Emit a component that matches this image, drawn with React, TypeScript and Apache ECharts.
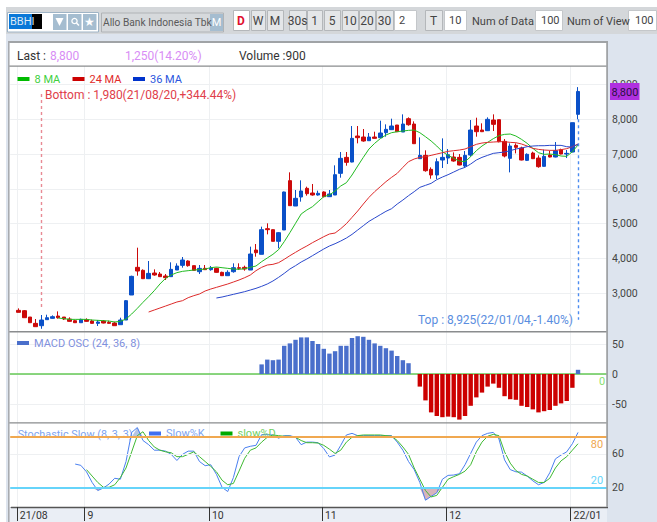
import React, { useEffect, useRef } from "react";
import * as echarts from "echarts";

const FONT = "Roboto, sans-serif";
const BANDS = 106;

// index of the first session of each month -> tick label
const monthTicks: Record<number, string> = { 1: "21/08", 13: "9", 35: "10", 55: "11", 77: "12", 99: "22/01" };
const categories = Array.from({ length: BANDS }, (_, i) => String(i));

// [open, close, low, high]
const candles = [
  [2510,2453,2453,2567],[2500,2299,2299,2520],[2318,2155,2155,2318],[2136,2041,2041,2261],[2069,2232,1980,2376],
  [2242,2299,2242,2385],[2280,2328,2271,2366],[2347,2299,2271,2481],[2318,2261,2232,2318],[2261,2194,2184,2309],
  [2213,2155,2155,2232],[2155,2251,2155,2271],[2242,2194,2184,2280],[2203,2136,2127,2242],[2136,2175,2060,2232],
  [2203,2146,2136,2232],[2165,2136,2127,2213],[2146,2069,2069,2184],[2098,2232,2098,2299],[2232,2788,2232,2807],
  [2951,3487,2951,3506],[3746,3640,3506,4311],[3660,3420,3410,3688],[3420,3573,3410,3928],[3583,3526,3506,3688],
  [3554,3478,3468,3612],[3497,3449,3382,3554],[3478,3688,3478,3890],[3669,3784,3669,3861],[3803,3957,3736,4043],
  [3928,3794,3765,3947],[3794,3660,3660,3794],[3621,3717,3554,3813],[3717,3679,3669,3813],[3679,3727,3650,3784],
  [3717,3602,3592,3736],[3602,3506,3497,3621],[3506,3602,3506,3660],[3621,3736,3592,3861],[3736,3717,3669,3861],
  [3746,3698,3650,3794],[3669,4129,3669,4340],[4244,4167,4052,4416],[4120,4828,4120,4915],[4857,4828,4694,5010],
  [4828,4493,4493,4838],[4493,4742,4292,4761],[4819,5911,4819,5921],[6237,5518,5518,6476],[5508,5729,5508,5968],
  [5767,5940,5633,6246],[6016,5863,5806,6064],[5882,5825,5806,6141],[5825,5873,5806,5949],[5911,5777,5758,5930],
  [5776,5853,5776,5968],[5824,6408,5824,6677],[6447,6878,6322,7060],[6906,6763,6667,7060],[6772,7452,6763,7807],
  [7520,7472,7309,7807],[7491,7376,7357,7721],[7385,7491,7385,7606],[7491,7452,7443,7644],[7472,7606,7462,7960],
  [7615,7711,7500,7855],[7702,7807,7692,8018],[7836,7644,7634,7836],[7634,7864,7634,8142],[8018,7845,7816,8056],
  [7864,7299,7290,7941],[6868,6964,6868,7481],[6964,6523,6494,7108],[6562,6399,6293,6619],[6399,6782,6284,6878],
  [6830,6906,6600,7452],[6887,6983,6715,7146],[6916,6801,6782,7050],[6906,6686,6677,7002],[6657,6964,6600,7088],
  [6973,7692,6926,7979],[7807,7644,7500,8046],[7692,7644,7634,7884],[7673,7999,7663,8056],[7979,7855,7663,8142],
  [7989,7357,7338,7989],[7366,6945,6906,7433],[6878,7232,6475,7309],[7251,7194,7021,7309],[7175,6830,6820,7213],
  [6820,6993,6801,7021],[7031,6868,6858,7069],[6887,6638,6609,6964],[6648,6935,6638,7127],[6973,6916,6906,7098],
  [6916,7098,6906,7347],[7127,7002,6993,7156],[7002,7021,6887,7117],[7060,7903,7050,7903],[8142,8800,8000,8925],
];

const ma8 = [2290,2271,2251,2251,2251,2251,2232,2223,2213,2203,2175,2194,2261,2405,2568,2740,2903,3075,3267,3430,3526,3593,3631,3650,3669,3679,3698,3736,3755,3736,3717,3698,3688,3707,3746,3784,3909,4014,4120,4254,4484,4742,5010,5279,5394,5489,5633,5777,5825,5939,6083,6178,6399,6657,6906,7146,7309,7443,7548,7615,7644,7663,7682,7692,7615,7500,7376,7232,7069,6964,6878,6801,6782,6926,7098,7232,7337,7443,7529,7567,7577,7520,7424,7309,7165,7041,6993,7002,6983,6945,6935,7069,7261];
const ma24 = [2462,2520,2577,2634,2692,2750,2788,2874,2932,2980,3066,3123,3171,3219,3267,3324,3382,3449,3526,3650,3746,3813,3832,3880,3976,4081,4177,4273,4359,4455,4541,4627,4704,4732,4856,5000,5182,5364,5565,5757,5920,6063,6207,6332,6447,6619,6782,6859,6906,6926,6964,7002,7041,7079,7098,7117,7146,7213,7280,7318,7337,7347,7357,7357,7337,7328,7290,7232,7165,7136,7117,7108,7108,7127,7156,7213,7290];
const ma36 = [2865,2893,2932,2970,3008,3047,3094,3142,3200,3267,3353,3458,3573,3698,3794,3899,3985,4081,4177,4273,4359,4425,4502,4588,4693,4818,4942,5067,5163,5259,5355,5431,5565,5680,5805,5920,6044,6102,6159,6265,6341,6408,6485,6562,6619,6715,6830,6906,6964,7021,7041,7060,7098,7146,7175,7213,7232,7241,7241,7251,7251,7251,7213,7203,7280];
const macdOsc = [16,24,23,24,47,51,57,61,61,55,50,42,34,38,47,47,60,63,62,57,51,47,43,39,30,23,18,null,-21,-44,-64,-70,-72,-71,-72,-76,-70,-53,-39,-31,-21,-16,-23,-37,-42,-43,-53,-55,-59,-64,-62,-60,-53,-49,-45,-23,7];
const slowK = [48.1,46.6,39,26.5,17,20,24.6,31.4,30.3,51.1,85.3,91,75.8,70.9,64.4,64.4,63.3,59.5,52.3,59.5,63.3,63.3,51.1,46.2,47.3,36,20.8,15.8,32.2,56.8,67.1,69,70.1,82.7,82.7,82.3,78.5,81.5,81.5,79.6,70.9,73.9,73.9,73.2,66.3,56.5,58.7,70.1,82.3,84.2,81.5,81.5,81.5,81.5,81.5,81.5,81.5,73.9,64.4,51.1,41.6,26.5,5.6,10.1,14.3,30.3,34.8,35.2,36.7,47.3,60.6,73.9,81.5,84.2,85.3,77.7,53,41.6,39,38.6,34,28.4,23.8,26.5,37.9,54.2,58.7,62.5,72,85.3];
const slowD = [41.6,34,26.5,20.8,20.8,23.8,32.2,43.5,62.5,81.5,86.1,75.8,68.2,64.4,62.5,61.4,56.8,56.8,59.5,62.5,56.8,51.1,45.4,39,29.1,23.8,25.3,39.8,54.9,64.4,67.1,73.9,79.6,82.3,81.5,80.8,80.8,79.6,75.8,73.2,73.2,72.8,70.1,65.6,60.6,64.4,73.9,79.6,81.5,82.3,82.3,82.3,82.3,81.5,80.8,75.8,68.2,59.5,43.5,30.3,17,9.4,11.3,20.8,30.3,33.3,36,39.8,47.3,62.5,73.9,80.8,83,81.5,62.5,49.2,40.5,36,34,30.3,26.5,26.5,31.4,43.5,51.9,56.8,64.4,72];
const fillOver1 = [80, 91, 80];
const fillUnder1 = [20, 17, 20];
const fillUnder2 = [20, 5.6, 10.1, 14.3, 20];

const pad = (start: number, values: (number | null)[]) => [...Array(start).fill(null), ...values];

type TxtOpt = { align?: string; size?: number; weight?: string; z?: number };
const txt = (x: number, y: number, text: string, fill: string, o: TxtOpt = {}) => ({
  type: "text", x, y, z: o.z ?? 60, silent: true,
  style: { text, fill, fontSize: o.size ?? 11, fontFamily: FONT, fontWeight: o.weight ?? "normal", align: o.align ?? "left", verticalAlign: "middle" },
});
const box = (x: number, y: number, w: number, h: number, fill: string, z = 55, stroke?: string) => ({
  type: "rect", z, silent: true, shape: { x, y, width: w, height: h },
  style: { fill, stroke: stroke ?? "none", lineWidth: stroke ? 1 : 0 },
});
const button = (x: number, x2: number, label: string, color = "#444", bg = "#e4e6e8", weight = "normal") => [
  box(x + 0.5, 10.5, x2 - x, 20, bg, 55, "#b4b7ba"),
  txt((x + x2) / 2, 21, label, color, { align: "center", weight, size: 12 }),
];
const field = (x: number, x2: number, label: string, textX: number) => [
  box(x + 0.5, 10.5, x2 - x, 20, "#ffffff", 55, "#c4c7ca"),
  txt(textX, 20.5, label, "#444", { size: 11 }),
];

const graphics = [
  box(6, 7, 651, 515, "#dde4ee", -10),
  box(6, 7, 651, 27, "#d4d7da", -9),
  box(9, 42, 598, 465, "#ffffff", -8),
  box(9, 507, 598, 15, "#eaeef5", -8),
  // frame
  box(8, 41, 600, 2, "#a0a3a6"),
  box(8, 65.5, 600, 1.2, "#8a8c8e"),
  box(8, 331, 600, 1.4, "#8a8c8e"),
  box(8, 422.2, 600, 1.4, "#8a8c8e"),
  box(8, 41, 1.6, 481, "#a8abb0"),
  box(606.2, 41, 1.8, 466, "#a0a3a6"),
  box(608, 43, 3.5, 479, "#dde4ee", 54),
  // symbol box
  box(7.5, 12.5, 91, 19.5, "#ffffff", 55, "#9fb4c6"),
  box(9, 14, 23, 15, "#0a78d8"),
  box(32, 14, 10, 15, "#000000"),
  txt(10, 21.5, "BBHI", "#dce9f5", { z: 61, size: 11 }),
  box(53, 14, 13.5, 16, "#a5bdd0"),
  box(68, 14, 13.5, 16, "#a5bdd0"),
  box(83, 14, 13.5, 16, "#a5bdd0"),
  { type: "polygon", z: 60, silent: true, shape: { points: [[55.5, 18], [63.5, 18], [59.5, 26]] }, style: { fill: "#ffffff" } },
  { type: "circle", z: 60, silent: true, shape: { cx: 74.5, cy: 21, r: 2.6 }, style: { fill: "none", stroke: "#ffffff", lineWidth: 1.3 } },
  { type: "line", z: 60, silent: true, shape: { x1: 76.5, y1: 23, x2: 79, y2: 25.5 }, style: { stroke: "#ffffff", lineWidth: 1.5 } },
  txt(89.5, 22, "★", "#ffffff", { align: "center", size: 12 }),
  box(101.5, 13, 122, 19, "#d6d9dc", 55, "#b0b3b6"),
  txt(103, 22.5, "Allo Bank Indonesia Tbk", "#5a5a5a", { size: 10.2 }),
  box(210, 14, 13, 17, "#a5bdd0"),
  txt(216.5, 22.5, "M", "#ffffff", { align: "center", size: 11 }),
  ...button(233, 249, "D", "#e01030", "#ffffff", "bold"),
  ...button(251, 265, "W"),
  ...button(267, 283, "M"),
  ...button(289, 306, "30s"),
  ...button(307, 322, "1"),
  ...button(324, 340, "5"),
  ...button(342, 358, "10"),
  ...button(359, 375, "20"),
  ...button(376, 393, "30"),
  ...field(394, 416, "2", 399),
  ...button(425, 442, "T"),
  ...field(444, 466, "10", 449),
  txt(472, 21, "Num of Data", "#444", { size: 11 }),
  ...field(535, 562, "100", 541),
  txt(567, 21, "Num of View", "#444", { size: 11 }),
  ...field(628, 656, "100", 635),
  // header
  txt(17, 55.5, "Last : ", "#333", { size: 12 }),
  txt(50, 55.5, "8,800", "#d88df5", { size: 12 }),
  txt(125, 55.5, "1,250(14.20%)", "#d88df5", { size: 12 }),
  txt(239, 55.5, "Volume :900", "#333", { size: 12 }),
  // annotations
  txt(45, 95, "Bottom : 1,980(21/08/20,+344.44%)", "#e0404a", { size: 12 }),
  txt(418, 319.5, "Top : 8,925(22/01/04,-1.40%)", "#5a8ee0", { size: 12 }),
  txt(599, 381, "0", "#8ae070", { size: 11 }),
  txt(17.7, 434, "Stochastic Slow (8, 3, 3)", "#7da3f0", { z: 3, size: 10.8 }),
  // last price
  box(610, 83, 29.5, 17, "#b030e0"),
  txt(611.5, 92, "8,800", "#2a1040", { size: 11 }),
];

const line = (name: string, color: string, data: any[], xAxisIndex: number, yAxisIndex: number, extra: any = {}) => ({
  name, type: "line", data, xAxisIndex, yAxisIndex, showSymbol: false, symbol: "none", connectNulls: false,
  color, itemStyle: { color }, lineStyle: { color, width: 1 }, clip: false, ...extra,
});
const area = (name: string, color: string, origin: number, data: any[]) => ({
  name, type: "line", data, xAxisIndex: 2, yAxisIndex: 2, symbol: "none", lineStyle: { width: 0 },
  areaStyle: { color, origin, opacity: 1 }, z: 1,
});
const dashed = (color: string) => ({ color, type: [3, 3], width: 1.4 });

const legendItem = (name: string, left: number, top: number, color: string, swatch: string) => ({
  show: true, left, top, selectedMode: false, icon: "rect", itemWidth: 12, itemHeight: 4, padding: 0,
  data: [{ name, itemStyle: { color: swatch }, textStyle: { color, fontSize: 11, fontFamily: FONT } }],
});

const gridX = { left: 10.2, width: 598.9 };
const hiddenX = (gridIndex: number) => ({ type: "category", gridIndex, data: categories, show: false });

export default function App() {
  const ref = useRef<HTMLDivElement>(null);
  useEffect(() => {
    const chart = echarts.init(ref.current!, undefined, { renderer: "svg" });
    const isTick = (i: number) => monthTicks[i] !== undefined;
    chart.setOption({
      animation: false,
      backgroundColor: "#ffffff",
      textStyle: { fontFamily: FONT },
      graphic: { elements: graphics },
      legend: [
        legendItem("8 MA", 17.5, 73.5, "#3fd03f", "#00bb00"),
        legendItem("24 MA", 72.5, 73.5, "#e02a2a", "#cc0000"),
        legendItem("36 MA", 133, 73.5, "#2a55dd", "#0033cc"),
        legendItem("MACD OSC (24, 36, 8)", 17, 337.5, "#7f90dd", "#4a6fcb"),
        legendItem("Slow%K", 149, 428, "#7da3f0", "#3f6ff0"),
        legendItem("slow%D", 220.5, 428, "#6fd05f", "#00aa00"),
      ],
      grid: [
        { ...gridX, top: 49.7, height: 278.4 },
        { ...gridX, top: 314, height: 120 },
        { ...gridX, top: 402.9, height: 122.9 },
        { left: 11.3, width: 598.9, top: 66, height: 441 },
      ],
      xAxis: [
        hiddenX(0),
        {
          type: "category", gridIndex: 1, data: categories,
          axisLine: { show: true, onZero: true, lineStyle: { color: "#66c955", width: 1.5 } },
          axisTick: { show: false }, axisLabel: { show: false }, splitLine: { show: false },
        },
        hiddenX(2),
        {
          type: "category", gridIndex: 3, data: categories,
          axisLine: { show: true, lineStyle: { color: "#555555", width: 1.4 } },
          axisTick: { show: true, length: 14, interval: (i: number) => isTick(i), lineStyle: { color: "#333333" } },
          splitLine: { show: true, interval: (i: number) => isTick(i), lineStyle: { color: "#eef0f2", width: 1 } },
          axisLabel: {
            show: true, interval: (i: number) => isTick(i), align: "left", margin: 3,
            color: "#333333", fontSize: 10.5, fontFamily: FONT,
            formatter: (_: string, i: number) => monthTicks[i] ?? "",
          },
        },
      ],
      yAxis: [
        {
          type: "value", gridIndex: 0, position: "right", min: 2000, max: 10000, interval: 1000,
          axisLine: { show: false }, axisTick: { show: false },
          splitLine: { show: true, showMinLine: false, showMaxLine: false, lineStyle: { color: "#eef0f2" } },
          axisLabel: {
            margin: 3, color: "#444444", fontSize: 10.5, fontFamily: FONT, showMinLabel: false, showMaxLabel: false,
            formatter: (v: number) => v.toLocaleString("en-US"),
          },
        },
        {
          type: "value", gridIndex: 1, position: "right", min: -100, max: 100, interval: 50,
          axisLine: { show: false }, axisTick: { show: false },
          splitLine: { show: true, showMinLine: false, showMaxLine: false, lineStyle: { color: "#eef0f2" } },
          axisLabel: { margin: 3, color: "#444444", fontSize: 10.5, fontFamily: FONT, showMinLabel: false, showMaxLabel: false },
        },
        {
          type: "value", gridIndex: 2, position: "right", min: -20, max: 120, interval: 20,
          axisLine: { show: false }, axisTick: { show: false }, splitLine: { show: false },
          axisLabel: {
            margin: 3, color: "#444444", fontSize: 10.5, fontFamily: FONT,
            formatter: (v: number) => (v === 20 || v === 60 ? String(v) : ""),
          },
        },
        { type: "value", gridIndex: 3, show: false, min: 0, max: 1 },
      ],
      series: [
        {
          name: "Price", type: "candlestick", xAxisIndex: 0, yAxisIndex: 0, barWidth: 4, clip: false,
          data: [["-", "-", "-", "-"], ...candles],
          itemStyle: { color: "#0a50c8", color0: "#cc0a0a", borderColor: "#0a50c8", borderColor0: "#cc0a0a", borderWidth: 1 },
        },
        line("8 MA", "#22bb22", pad(8, ma8), 0, 0, {
          markLine: {
            silent: true, symbol: "none", label: { show: false },
            data: [
              [{ coord: ["5", 8727], lineStyle: dashed("#e88a94") }, { coord: ["5", 2520] }],
              [{ coord: ["100", 8000], lineStyle: dashed("#4c8cf0") }, { coord: ["100", 2240] }],
            ],
          },
        }),
        line("24 MA", "#dd2a2a", pad(24, ma24), 0, 0),
        line("36 MA", "#2a48cc", pad(36, ma36), 0, 0),
        {
          name: "MACD OSC (24, 36, 8)", type: "bar", xAxisIndex: 1, yAxisIndex: 1, barWidth: 4.4, color: "#4a6fcb",
          data: pad(44, macdOsc),
          itemStyle: { color: (p: any) => (p.value > 0 ? "#4a6fcb" : "#cc0000") },
        },
        area("overbought", "#b4c4e4", 80, pad(21, fillOver1)),
        area("oversold1", "#d8b4bc", 20, pad(14, fillUnder1)),
        area("oversold2", "#d8b4bc", 20, pad(72, fillUnder2)),
        line("Slow%K", "#4a80f0", pad(11, slowK), 2, 2, {
          markLine: {
            silent: true, symbol: "none",
            data: [
              { yAxis: 60, lineStyle: { color: "#eef0f2", width: 1, type: "solid" }, label: { show: false } },
              { yAxis: 80, lineStyle: { color: "#f0a850", width: 2, type: "solid" },
                label: { show: true, formatter: "80", position: "insideEndBottom", distance: [6, 2], color: "#f0a850", fontSize: 11, fontFamily: FONT } },
              { yAxis: 20, lineStyle: { color: "#66d4fa", width: 2, type: "solid" },
                label: { show: true, formatter: "20", position: "insideEndTop", distance: [6, 2], color: "#66d4fa", fontSize: 11, fontFamily: FONT } },
            ],
          },
        }),
        line("slow%D", "#3fba33", pad(13, slowD), 2, 2),
      ],
    });
    return () => chart.dispose();
  }, []);
  return <div ref={ref} style={{ position: "fixed", left: 0, top: 0, width: 657, height: 522 }} />;
}
